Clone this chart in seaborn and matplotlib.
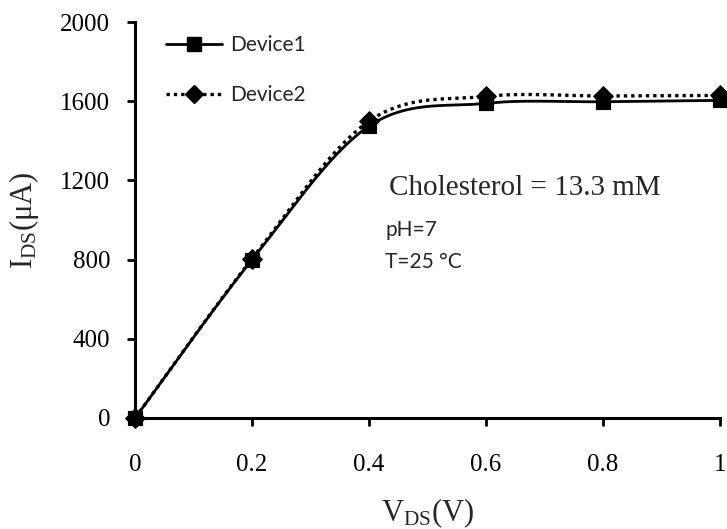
import numpy as np
import matplotlib
matplotlib.use('Agg')
import matplotlib.pyplot as plt
import seaborn as sns
from matplotlib.lines import Line2D

# datos
vds = [0, 0.2, 0.4, 0.6, 0.8, 1.0]
device1 = [0, 800, 1475, 1590, 1598, 1605]
device2 = [0, 805, 1500, 1625, 1627, 1630]


def suavizar(x, y, n=40):
    # curva tipo Excel (Catmull-Rom) entre los puntos
    x = np.asarray(x, float)
    y = np.asarray(y, float)
    px = np.concatenate([[x[0]], x, [x[-1]]])
    py = np.concatenate([[y[0]], y, [y[-1]]])
    xs, ys = [], []
    t = np.linspace(0, 1, n)
    for i in range(1, len(px) - 2):
        p0, p1, p2, p3 = [np.array([px[j], py[j]]) for j in range(i - 1, i + 3)]
        c1 = p1 + (p2 - p0) / 6
        c2 = p2 - (p3 - p1) / 6
        b = ((1 - t) ** 3)[:, None] * p1 + (3 * (1 - t) ** 2 * t)[:, None] * c1 \
            + (3 * (1 - t) * t ** 2)[:, None] * c2 + (t ** 3)[:, None] * p2
        xs.extend(b[:, 0])
        ys.extend(b[:, 1])
    return np.array(xs), np.array(ys)


sns.set_style('ticks')
plt.rcParams['font.family'] = ['Liberation Serif', 'DejaVu Serif']
plt.rcParams['mathtext.fontset'] = 'custom'
plt.rcParams['mathtext.rm'] = 'Liberation Serif'
plt.rcParams['mathtext.it'] = 'Liberation Serif:italic'

fig = plt.figure(figsize=(7.27, 5.29), dpi=100)
ax = fig.add_axes([0.186, 0.21, 0.804, 0.748])

x1, y1 = suavizar(vds, device1)
x2, y2 = suavizar(vds, device2)
sns.lineplot(x=x1, y=y1, ax=ax, color='black', lw=2, sort=False, estimator=None)
sns.lineplot(x=x2, y=y2, ax=ax, color='black', lw=2.4, ls=(0, (1, 1.2)), sort=False, estimator=None)
sns.scatterplot(x=vds, y=device2, ax=ax, marker='D', s=100, color='black', edgecolor='black', zorder=5)
sns.scatterplot(x=vds, y=device1, ax=ax, marker='s', s=110, color='black', edgecolor='black', zorder=6)

ax.set_xlim(0, 1)
ax.set_ylim(0, 2000)
ax.set_xticks([0, 0.2, 0.4, 0.6, 0.8, 1.0])
ax.set_xticklabels(['0', '0.2', '0.4', '0.6', '0.8', '1'])
ax.set_yticks(range(0, 2001, 400))
ax.tick_params(labelsize=18, width=2, length=6, direction='out', colors='black')
ax.tick_params(axis='x', pad=20)
ax.tick_params(axis='y', pad=12)
for s in ['left', 'bottom']:
    ax.spines[s].set_linewidth(2.2)
    ax.spines[s].set_color('black')
sns.despine(ax=ax)
for c in ax.collections:
    c.set_clip_on(False)

ax.set_xlabel('V$_{\\rm DS}$(V)', fontsize=22)
ax.set_ylabel('I$_{\\rm DS}$(\u03bcA)', fontsize=22)
ax.xaxis.set_label_coords(0.5, -0.198)
ax.yaxis.set_label_coords(-0.162, 0.5)

handles = [
    Line2D([], [], color='black', lw=2, marker='s', markersize=10),
    Line2D([], [], color='black', lw=2.4, ls=(0, (1, 1.2)), marker='D', markersize=9),
]
ax.legend(handles, ['Device1', 'Device2'], loc='upper left', bbox_to_anchor=(0.02, 1.015),
          frameon=False, prop={'family': 'Lato', 'size': 15}, handlelength=2.7,
          labelspacing=1.45, handletextpad=0.4)

ax.text(0.435, 1160, 'Cholesterol = 13.3 mM', fontsize=21, va='center')
ax.text(0.428, 950, 'pH=7', fontsize=15, family='Lato', va='center')
ax.text(0.428, 790, 'T=25 \u00b0C', fontsize=15, family='Lato', va='center')

fig.savefig('out.png', dpi=100)
